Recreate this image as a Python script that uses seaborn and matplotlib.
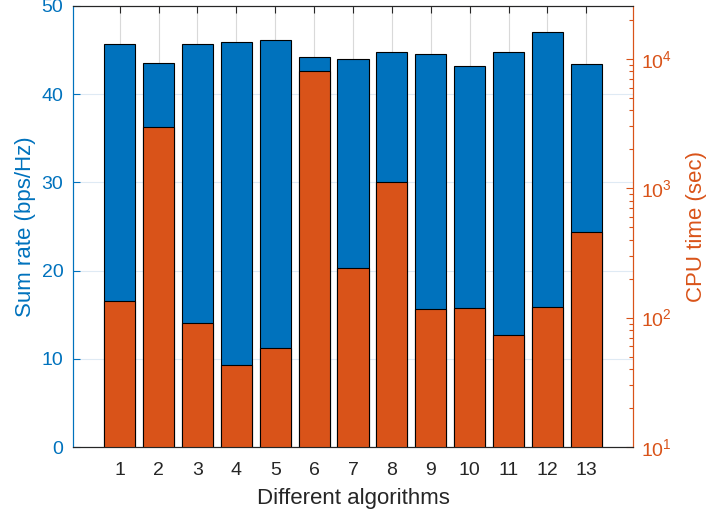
import numpy as np
import pandas as pd
import matplotlib
matplotlib.use("Agg")
import matplotlib.pyplot as plt
import seaborn as sns
from matplotlib.ticker import LogLocator, LogFormatterMathtext, NullFormatter

# Data
algorithms = [1, 2, 3, 4, 5, 6, 7, 8, 9, 10, 11, 12, 13]
sum_rate = [45.7, 43.5, 45.7, 45.9, 46.2, 44.2, 43.95, 44.8, 44.6, 43.2, 44.75, 47.0, 43.4]
cpu_time = [135, 2950, 91, 43, 58, 8000, 240, 1120, 116, 119, 74, 120, 456]

blue = "#0072BD"
orange = "#D95319"
dark = "#262626"

sns.set_theme(style="white")
plt.rcParams["font.family"] = ["Liberation Sans", "DejaVu Sans"]
plt.rcParams["mathtext.default"] = "regular"

df = pd.DataFrame({"alg": algorithms, "rate": sum_rate, "cpu": cpu_time})

fig = plt.figure(figsize=(7.08, 5.17), dpi=100)
ax = fig.add_axes([73 / 708, 1 - 447 / 517, (633 - 73) / 708, (447 - 6) / 517])

sns.barplot(data=df, x="alg", y="rate", native_scale=True, width=0.8,
            color=blue, saturation=1, edgecolor="black", linewidth=0.8, ax=ax)
ax.set_xlim(-0.2, 14.2)
ax.set_ylim(0, 50)
ax.set_xticks(algorithms)
ax.set_xticklabels([str(a) for a in algorithms])
ax.set_yticks([0, 10, 20, 30, 40, 50])
ax.set_axisbelow(True)
ax.grid(True, axis="x", color="#d9d9d9", linewidth=0.8)
ax.grid(True, axis="y", color="#dfeaf4", linewidth=0.8)
ax.tick_params(axis="x", direction="in", length=5, colors=dark, labelsize=14,
               top=True, bottom=True, pad=11, width=0.8)
ax.tick_params(axis="y", direction="in", length=5, colors=blue, labelsize=14,
               pad=7, width=0.8)
ax.set_xlabel("Different algorithms", fontsize=16, color=dark, labelpad=6)
ax.set_ylabel("Sum rate (bps/Hz)", fontsize=16, color=blue, labelpad=4)

ax2 = ax.twinx()
ax2.set_yscale("log")
sns.barplot(data=df, x="alg", y="cpu", native_scale=True, width=0.8,
            color=orange, saturation=1, edgecolor="black", linewidth=0.8, ax=ax2)
ax2.set_xlim(-0.2, 14.2)
ax2.set_ylim(10, 10 ** 4.408)
ax2.yaxis.set_major_locator(LogLocator(base=10, numticks=10))
ax2.yaxis.set_major_formatter(LogFormatterMathtext())
ax2.yaxis.set_minor_locator(LogLocator(base=10, subs=np.arange(2, 10), numticks=20))
ax2.yaxis.set_minor_formatter(NullFormatter())
ax2.tick_params(axis="y", which="major", direction="in", length=5, colors=orange,
                labelsize=14, pad=6, width=0.8)
ax2.tick_params(axis="y", which="minor", direction="in", length=3, colors=orange, width=0.8)
ax2.set_ylabel("CPU time (sec)", fontsize=16, color=orange, labelpad=10)
ax2.set_xlabel("")

for a in (ax, ax2):
    a.spines["left"].set_color(blue)
    a.spines["right"].set_color(orange)
    a.spines["top"].set_color(dark)
    a.spines["bottom"].set_color(dark)
    for s in a.spines.values():
        s.set_linewidth(0.8)

fig.savefig("out.png", dpi=100)
